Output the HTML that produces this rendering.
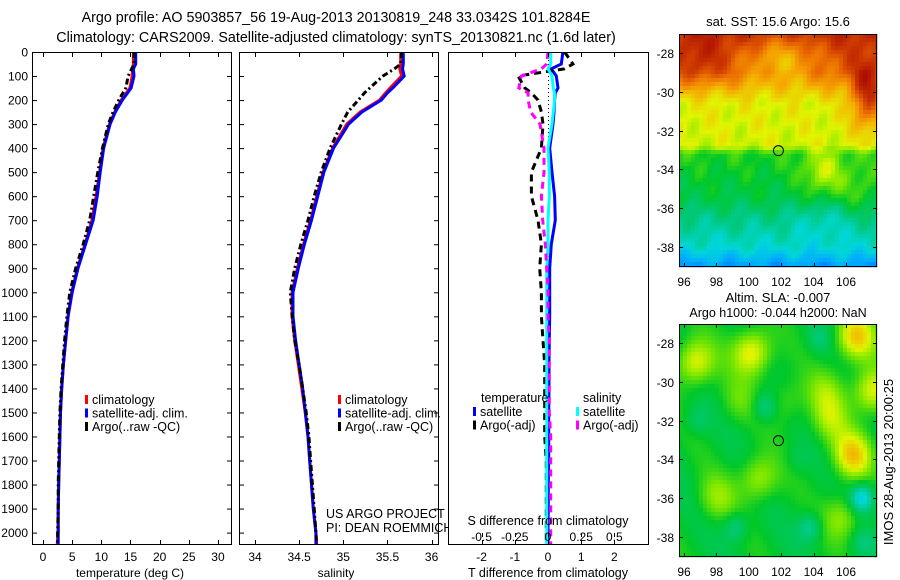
<!DOCTYPE html>
<html><head><meta charset="utf-8">
<style>
html,body{margin:0;padding:0;background:#fff;}
svg{display:block;font-family:"Liberation Sans",sans-serif;}
text{font-size:12px;fill:#000;}
</style></head>
<body>
<svg id="fig" width="900" height="580" viewBox="0 0 900 580">
<g id="titles">
<text x="336" y="22" text-anchor="middle" style="font-size:14.3px">Argo profile: AO 5903857_56 19-Aug-2013 20130819_248 33.0342S 101.8284E</text>
<text x="336" y="42" text-anchor="middle" style="font-size:14.3px">Climatology: CARS2009. Satellite-adjusted climatology: synTS_20130821.nc (1.6d later)</text>
</g>
</svg>
<script>
// ---------- data ----------
const depthT = [0,50,70,100,150,170,200,250,300,400,500,600,700,800,900,1000,1100,1200,1300,1400,1500,1600,1700,1800,1900,2000,2060];
const tempClim = [15.5,15.5,15.4,15.3,14.9,14.3,13.4,12.3,11.4,10.3,9.7,9.1,8.4,7.2,5.9,4.9,4.3,3.9,3.5,3.2,3.0,2.9,2.8,2.7,2.6,2.6,2.4];
const tempSat  = [15.9,15.9,15.5,15.6,15.1,14.5,13.6,12.4,11.5,10.4,9.8,9.3,8.6,7.3,6.0,5.0,4.3,3.9,3.5,3.2,3.0,2.9,2.8,2.7,2.6,2.6,2.6];
const tempArgo = [15.6,15.6,15.2,14.6,14.2,13.7,13.0,12.0,11.2,10.2,9.4,8.7,8.0,6.9,5.6,4.6,4.1,3.7,3.4,3.1,2.9,2.8,2.7,2.6,2.6,2.5,2.5];
const salClim = [35.65,35.65,35.64,35.66,35.53,35.48,35.41,35.19,35.04,34.88,34.77,34.70,34.63,34.55,34.48,34.42,34.42,34.45,34.49,34.53,34.57,34.60,34.62,34.64,34.66,34.69,34.70];
const salSat  = [35.68,35.68,35.67,35.69,35.56,35.50,35.43,35.21,35.06,34.89,34.78,34.71,34.64,34.56,34.49,34.43,34.43,34.46,34.50,34.54,34.57,34.60,34.62,34.64,34.66,34.69,34.69];
const salArgo = [35.66,35.65,35.58,35.45,35.30,35.24,35.17,35.05,34.98,34.85,34.75,34.67,34.60,34.52,34.45,34.40,34.42,34.45,34.50,34.54,34.58,34.61,34.63,34.65,34.67,34.69,34.70];
const dTsat  = [0.45,0.4,0.1,0.25,0.3,0.22,0.2,0.18,0.15,0.05,0.12,0.2,0.22,0.1,0.05,0.05,0.05,0.04,0.03,0.03,0.02,0.02,0.02,0.01,0.01,0.0,0.0];
const dTargo = [0.5,0.75,0.5,-0.9,-0.7,-0.5,-0.3,-0.2,-0.15,-0.2,-0.5,-0.5,-0.3,-0.2,-0.25,-0.2,-0.2,-0.15,-0.1,-0.1,-0.1,-0.1,-0.05,-0.05,-0.05,-0.05,-0.05];
const dSsat  = [0.02,0.02,0.0,0.03,0.04,0.05,0.05,0.04,0.03,0.0,0.01,0.01,0.0,0.0,-0.01,-0.01,-0.01,-0.01,-0.01,-0.01,-0.01,-0.01,-0.01,-0.01,-0.01,-0.01,-0.01];
const dSargo = [0.0,-0.01,-0.05,-0.2,-0.22,-0.15,-0.15,-0.13,-0.06,-0.03,-0.03,-0.05,-0.04,-0.02,-0.01,0.0,0.0,0.01,0.01,0.01,0.01,0.02,0.02,0.02,0.02,0.02,0.02];
const depthTicks = [0,100,200,300,400,500,600,700,800,900,1000,1100,1200,1300,1400,1500,1600,1700,1800,1900,2000];
const tempTicks = [0,5,10,15,20,25,30];
const salTicks = [34,34.5,35,35.5,36];
const dTTicks = [-2,-1,0,1,2];
const dSTicks = [-0.5,-0.25,0,0.25,0.5];
const latTicks = [-28,-30,-32,-34,-36,-38];
const lonTicks = [96,98,100,102,104,106];
const argoLon = 101.8284, argoLat = -33.0342;
const yellowBlobs = [[100.2,-28.5,1.1],[96.7,-29,1.0],[106.6,-27.7,1.2],[107.6,-30.5,1.0],[106.4,-33.8,1.2],[100.6,-35,0.75],[98,-36,0.55],[105.8,-37,0.65],[105,-32,0.6],[104.8,-30.5,0.5],[102.3,-31,0.4],[99.3,-31,0.35]];
const cyanBlobs = [[101,-31.3,0.9],[99.2,-37.5,0.8],[103.8,-37.5,0.9],[107,-36,1.6],[96.8,-32,0.5],[104.3,-27.8,0.45],[103,-34,0.3],[107,-38.3,0.5]];

// ---------- helpers ----------
const NS='http://www.w3.org/2000/svg';
const svg=document.getElementById('fig');
function mk(tag,attrs,parent){const e=document.createElementNS(NS,tag);for(const k in attrs)e.setAttribute(k,attrs[k]);(parent||svg).appendChild(e);return e;}
const TOP=52,BOT=545;
const dy=d=>TOP+d*0.2403;
const panels=[{x0:32,x1:232},{x0:239,x1:439},{x0:448,x1:649}];
const tx=t=>43+t*5.833;
const sx=s=>255+(s-34)*88.3;
const dx=t=>548+t*33.2;
const dsx=s=>dx(s*4);

const defs=mk('defs',{});
panels.forEach((p,i)=>{const c=mk('clipPath',{id:'clip'+i},defs);mk('rect',{x:p.x0,y:TOP,width:p.x1-p.x0,height:BOT-TOP},c);});

function line(g,xs,fx,color,w,dash,name){
  const pts=xs.map((v,i)=>fx(v).toFixed(1)+','+dy(depthT[i]).toFixed(1)).join(' ');
  const a={points:pts,fill:'none',stroke:color,'stroke-width':w,'stroke-linejoin':'miter'};
  if(dash)a['stroke-dasharray']=dash;
  const e=mk('polyline',a,g);
  
  
}
function frame(p,name){
  const r=mk('rect',{x:p.x0+0.5,y:TOP+0.5,width:p.x1-p.x0-1,height:BOT-TOP-1,fill:'none',stroke:'#000','stroke-width':1});
  
  
}
function text(x,y,s,anchor,name,extra){
  const t=mk('text',Object.assign({x:x,y:y,'text-anchor':anchor||'start'},extra||{}));t.textContent=s;
  
  
  return t;
}
function ytickmarks(p){depthTicks.forEach(d=>{const y=dy(d)+0.5;mk('line',{x1:p.x0,x2:p.x0+5,y1:y,y2:y,stroke:'#000'});mk('line',{x1:p.x1-5,x2:p.x1,y1:y,y2:y,stroke:'#000'});});}
function xtick(x,p){x=Math.round(x)+0.5;mk('line',{x1:x,x2:x,y1:BOT-5,y2:BOT,stroke:'#000'});mk('line',{x1:x,x2:x,y1:TOP,y2:TOP+5,stroke:'#000'});}
function legend(x,y,items,name){
  const g=mk('g',{});
  
  
  items.forEach((it,i)=>{mk('rect',{x:x,y:y+i*13.5-9,width:3,height:9,fill:it[0]},g);const t=mk('text',{x:x+7,y:y+i*13.5,style:'font-size:12.5px'},g);t.textContent=it[1];});
}

// ---------- panel 1 ----------
const g1=mk('g',{'clip-path':'url(#clip0)'});


line(g1,tempClim,tx,'#ff0000',3,null,'temp-climatology-line');
line(g1,tempSat,tx,'#0000ff',3,null,'temp-satellite-line');
line(g1,tempArgo,tx,'#000',3,'6,3,2,3','temp-argo-line');
frame(panels[0],'temperature-axes');
ytickmarks(panels[0]);
depthTicks.forEach(d=>text(28,dy(d)+4.5,String(d),'end','depth-tick-label'));
tempTicks.forEach(t=>{xtick(tx(t),panels[0]);text(tx(t),561,String(t),'middle','temp-tick-label');});
text(130,577,'temperature (deg C)','middle','x-axis-title-temperature');
legend(85,404,[['#ff0000','climatology'],['#0000ff','satellite-adj. clim.'],['#000','Argo(..raw -QC)']],'temperature-legend');

// ---------- panel 2 ----------
const g2=mk('g',{'clip-path':'url(#clip1)'});


line(g2,salClim,sx,'#ff0000',3,null,'sal-climatology-line');
line(g2,salSat,sx,'#0000ff',3,null,'sal-satellite-line');
line(g2,salArgo,sx,'#000',3,'6,3,2,3','sal-argo-line');
frame(panels[1],'salinity-axes');
ytickmarks(panels[1]);
salTicks.forEach(s=>{xtick(sx(s),panels[1]);text(sx(s),561,String(s),'middle','salinity-tick-label');});
text(336,577,'salinity','middle','x-axis-title-salinity');
legend(338,404,[['#ff0000','climatology'],['#0000ff','satellite-adj. clim.'],['#000','Argo(..raw -QC)']],'salinity-legend');
text(326,518,'US ARGO PROJECT','start','project-credit',{style:'font-size:12.5px'});
text(326,532,'PI: DEAN ROEMMICH','start','pi-credit',{style:'font-size:12.5px'});

// ---------- panel 3 ----------
mk('rect',{x:448,y:TOP,width:201,height:BOT-TOP,fill:'#fff'});
const g3=mk('g',{'clip-path':'url(#clip2)'});


mk('line',{x1:548.5,x2:548.5,y1:TOP,y2:BOT,stroke:'#000','stroke-dasharray':'1,3'},g3);
line(g3,dTsat,dx,'#0000ff',3,null,'temp-diff-satellite-line');
line(g3,dTargo,dx,'#000',3,'7,5','temp-diff-argo-line');
line(g3,dSsat,dsx,'#00ffff',3,null,'sal-diff-satellite-line');
line(g3,dSargo,dsx,'#ff00ff',3,'7,5','sal-diff-argo-line');
frame(panels[2],'difference-axes');
dTTicks.forEach(t=>{xtick(dx(t),panels[2]);text(dx(t),561,String(t),'middle','t-diff-tick-label');});
dSTicks.forEach(s=>{const x=Math.round(dsx(s))+0.5;mk('line',{x1:x,x2:x,y1:BOT-12,y2:BOT-8,stroke:'#000'});text(dsx(s),541,String(s),'middle','s-diff-tick-label');});
text(548,525,'S difference from climatology','middle','s-diff-axis-title',{style:'font-size:12.5px'});
text(548,577,'T difference from climatology','middle','t-diff-axis-title',{style:'font-size:12.5px'});
text(481,402,'temperature','start','legend-temperature-header',{style:'font-size:12.5px'});
text(583,402,'salinity','start','legend-salinity-header',{style:'font-size:12.5px'});
legend(473,416,[['#0000ff','satellite'],['#000','Argo(-adj)']],'temp-diff-legend');
legend(576,416,[['#00ffff','satellite'],['#ff00ff','Argo(-adj)']],'sal-diff-legend');

// ---------- maps ----------
const cmapStops=[[0,[0,0,150]],[0.12,[0,60,255]],[0.25,[0,170,255]],[0.33,[0,215,215]],[0.42,[0,200,120]],[0.5,[0,200,40]],[0.58,[120,230,0]],[0.65,[225,245,0]],[0.74,[245,170,0]],[0.82,[235,110,0]],[0.9,[200,50,0]],[1,[160,0,0]]];
function cmap(v){v=Math.max(0,Math.min(1,v));for(let i=1;i<cmapStops.length;i++){if(v<=cmapStops[i][0]){const a=cmapStops[i-1],b=cmapStops[i];const f=(v-a[0])/(b[0]-a[0]);const c=a[1].map((q,k)=>Math.round(q+(b[1][k]-q)*f));return 'rgb('+c.join(',')+')';}}return 'rgb(160,0,0)';}
const MX0=679,MX1=877,lonX=l=>684+(l-96)*16.2;
function drawMap(y0,y1,field,name){
  const latY=l=>y0+19+(-l-28)*19.4;
  const g=mk('g',{});
  
  
  const cs=4;
  for(let y=y0;y<y1;y+=cs){for(let x=MX0;x<MX1;x+=cs){
    const lon=96+(x+cs/2-684)/16.2, lat=-(28+(y+cs/2-y0-19)/19.4);
    mk('rect',{x:x,y:y,width:Math.min(cs,MX1-x)+0.3,height:Math.min(cs,y1-y)+0.3,fill:cmap(field(lon,lat))},g);}}
  mk('rect',{x:MX0+0.5,y:y0+0.5,width:MX1-MX0-1,height:y1-y0-1,fill:'none',stroke:'#000'},g);
  latTicks.forEach(l=>{const y=Math.round(latY(l))+0.5;mk('line',{x1:MX0,x2:MX0+4,y1:y,y2:y,stroke:'#000'});mk('line',{x1:MX1-4,x2:MX1,y1:y,y2:y,stroke:'#000'});text(674,y+4.5,String(l),'end','lat-tick-label');});
  lonTicks.forEach(l=>{const x=Math.round(lonX(l))+0.5;mk('line',{x1:x,x2:x,y1:y0,y2:y0+4,stroke:'#000'});mk('line',{x1:x,x2:x,y1:y1-4,y2:y1,stroke:'#000'});text(lonX(l),y1+19,String(l),'middle','lon-tick-label');});
  const c=mk('circle',{cx:lonX(argoLon),cy:latY(argoLat),r:5,fill:'none',stroke:'#000','stroke-width':1});
  
  
}
const sstL=[26,27,29,30,30.6,32.8,33.2,35.5,36.5,38,39.5];
const sstV=[0.93,0.92,0.83,0.71,0.66,0.64,0.52,0.47,0.41,0.34,0.18];
function interp(xs,ys,x){if(x<=xs[0])return ys[0];for(let i=1;i<xs.length;i++){if(x<=xs[i]){const f=(x-xs[i-1])/(xs[i]-xs[i-1]);return ys[i-1]+(ys[i]-ys[i-1])*f;}}return ys[ys.length-1];}
const gss=(lon,lat,a,b,sx_,sy_)=>Math.exp(-Math.pow((lon-a)/sx_,2)-Math.pow((lat-b)/sy_,2));
function sstField(lon,lat){
  const L=-lat;
  let v=interp(sstL,sstV,L);
  v+=0.13*gss(lon,lat,104.6,-34.2,1.3,1.3)*(L>32.9?1:0.1);
  v+=0.06*gss(lon,lat,106.8,-35,1.2,1.2);
  v+=0.22*gss(lon,lat,107.3,-30.3,1.0,1.6);
  v-=0.13*gss(lon,lat,102,-28.3,2.2,1.2);
  v+=0.06*gss(lon,lat,97,-28.5,1.5,1.2);
  v-=0.05*gss(lon,lat,104.5,-36.5,1.5,1.2);
  v+=0.02*Math.sin(lon*2.3+lat*1.7)+0.015*Math.sin(lon*4.1-lat*3.3);
  return v;
}
function slaField(lon,lat){
  let v=0.49+0.03*Math.sin(lon*1.3+lat*0.9);
  yellowBlobs.forEach(b=>{v+=0.17*b[2]*Math.exp(-(Math.pow(lon-b[0],2)+Math.pow(lat-b[1],2))/1.4);});
  cyanBlobs.forEach(b=>{v-=0.12*b[2]*Math.exp(-(Math.pow(lon-b[0],2)+Math.pow(lat-b[1],2))/0.55);});
  return v;
}
drawMap(34,267,sstField,'sst-map');
drawMap(324,557,slaField,'sla-map');
text(778,26,'sat. SST: 15.6  Argo: 15.6','middle','sst-map-title',{style:'font-size:13px'});
text(778,302,'Altim. SLA: -0.007','middle','sla-map-title-1',{style:'font-size:13px'});
text(778,317,'Argo h1000: -0.044 h2000: NaN','middle','sla-map-title-2',{style:'font-size:12.5px'});
text(0,0,'IMOS 28-Aug-2013 20:00:25','middle','timestamp-label',{transform:'translate(893,462) rotate(-90)',style:'font-size:13px'});
</script>
</body></html>
